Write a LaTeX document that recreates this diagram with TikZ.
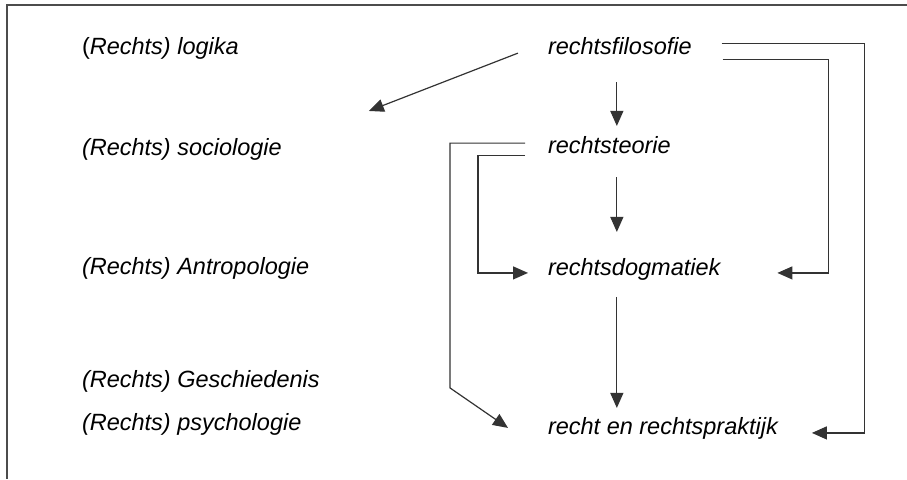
\documentclass[tikz,border=0pt]{standalone}
\usepackage{fontspec}
\setmainfont{Liberation Sans}
\usetikzlibrary{arrows.meta,calc}
\begin{document}
\begin{tikzpicture}[x=1pt,y=-1pt,
  lbl/.style={anchor=base west,inner sep=0pt,outer sep=0pt,
    font=\fontsize{23.5pt}{28pt}\selectfont\itshape},
  arr/.style={draw=black!80,line width=1.2pt,
    -{Triangle[length=15pt,width=13pt]}},
  frame/.style={draw=black!70,line width=1.6pt}]
\useasboundingbox (0,0) rectangle (907,479);

% frame along the top and left edges
\draw[frame] (907,5) -- (7,5) -- (7,479);

% neighbouring disciplines
\node[lbl] (log) at (82,54)  {{\upshape(}Rechts) logika};
\node[lbl] (soc) at (82,155) {(Rechts) sociologie};
\node[lbl] (ant) at (82,274) {(Rechts) Antropologie};
\node[lbl] (ges) at (82,387) {(Rechts) Geschiedenis};
\node[lbl] (psy) at (82,430) {(Rechts) psychologie};

% levels of legal science
\node[lbl] (fil) at (548,54)  {rechtsfilosofie};
\node[lbl] (teo) at (548,153) {rechtsteorie};
\node[lbl] (dog) at (548,275) {rechtsdogmatiek};
\node[lbl] (rec) at (548,434) {recht en rechtspraktijk};

% vertical chain
\draw[arr] ($(fil.south)+(-3,28)$) -- ($(fil.south |- teo.north)+(-3,-10)$);
\draw[arr] ($(fil.south |- teo.south)+(-3,24)$) -- ($(fil.south |- dog.north)+(-3,-26)$);
\draw[arr] ($(fil.south |- dog.south)+(-3,17)$) -- ($(fil.south |- rec.north)+(-3,-9)$);

% rechtsfilosofie towards the auxiliary sciences
\draw[arr] ($(fil.west)+(-30,7.5)$) -- ($(soc.north east)+(87,-27)$);

% loops on the right
\draw[arr] ($(fil.east)+(30,-2.5)$) -| ($(rec.east)+(87,5)$) -- ($(rec.east)+(34,5)$);
\draw[arr] ($(fil.east)+(31,13.5)$) -| ($(dog.east)+(108,4)$) -- ($(dog.east)+(57,4)$);

% loops on the left
\draw[arr] ($(teo.west)+(-23,-1.5)$) -| ($(rec.west)+(-98,-40)$) -- ($(rec.west)+(-40,0)$);
\draw[arr] ($(teo.west)+(-23,10.5)$) -| ($(dog.west)+(-70,4)$) -- ($(dog.west)+(-20,4)$);
\end{tikzpicture}
\end{document}
